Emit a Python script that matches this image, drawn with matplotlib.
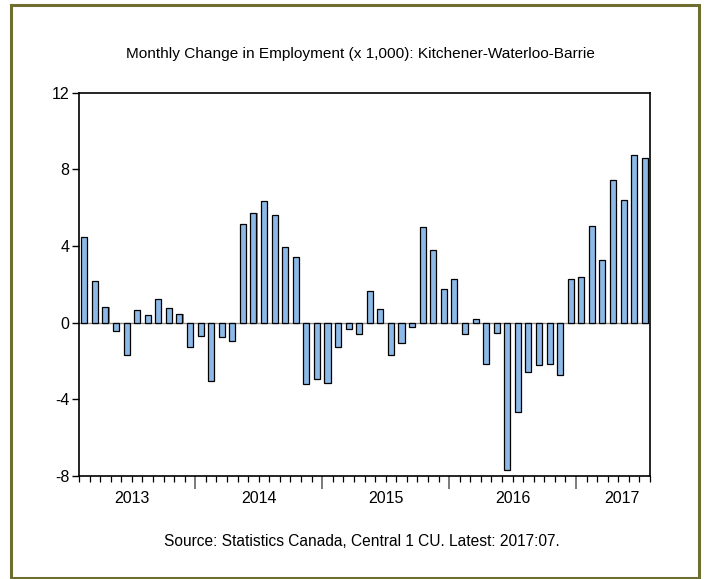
import numpy as np
import matplotlib
matplotlib.use("Agg")
import matplotlib.pyplot as plt
from matplotlib.patches import Rectangle

# monthly change in employment (x 1,000), 2013:02 .. 2017:07
months = [f"{y}:{m:02d}" for y in range(2013, 2018) for m in range(1, 13)][1:55]
change = [4.47, 2.16, 0.82, -0.45, -1.67, 0.64, 0.38, 1.22, 0.75, 0.47, -1.25,
          -0.70, -3.06, -0.77, -0.97, 5.13, 5.70, 6.33, 5.62, 3.93, 3.41, -3.22,
          -2.96, -3.15, -1.25, -0.35, -0.61, 1.63, 0.70, -1.67, -1.06, -0.21,
          4.97, 3.81, 1.77, 2.26, -0.59, 0.19, -2.17, -0.56, -7.67, -4.64,
          -2.56, -2.19, -2.16, -2.75, 2.26, 2.37, 5.06, 3.27, 7.43, 6.38,
          8.77, 8.57]
years = ["2013", "2014", "2015", "2016", "2017"]
yticks = [-8, -4, 0, 4, 8, 12]

plt.rcParams['font.family'] = ['Liberation Sans', 'DejaVu Sans']

fig = plt.figure(figsize=(7.04, 5.79), dpi=100)
ax = fig.add_axes([79 / 704, 1 - 476 / 579, 571 / 704, 383.3 / 579])

x = np.arange(len(change))
# grey shadow, then the bar itself
ax.bar(x + 0.1, change, width=0.57, color="#8a8a8a", zorder=2)
ax.bar(x, change, width=0.57, color="#8cb9e6", edgecolor="black",
       linewidth=0.9, zorder=3)
ax.axhline(0, color="#8c8c8c", lw=1.0, zorder=1)

ax.set_xlim(-0.5, len(change) - 0.5)
ax.set_ylim(-8, 12)
ax.set_yticks(yticks)
ax.set_yticklabels([str(v) for v in yticks], fontsize=11.5)
ax.tick_params(axis="y", direction="out", length=5, width=1, pad=2)

# year boundaries (January) as major ticks, months as minor ticks
jan = [i - 0.5 for i, m in enumerate(months) if m.endswith(":01")]
ax.set_xticks(jan)
ax.set_xticklabels([""] * len(jan))
ax.tick_params(axis="x", which="major", direction="out", length=9,
               width=1.3, color="#707070")
ax.set_xticks(np.arange(-0.5, len(change)), minor=True)
ax.tick_params(axis="x", which="minor", direction="out", length=4,
               width=0.9, color="black")

label_pos = [4.5, 16.5, 28.5, 40.5, 50.8]
for p, yr in zip(label_pos, years):
    ax.text(p, -0.06, yr, transform=ax.get_xaxis_transform(), ha="center",
            va="center", fontsize=11.5)

for s in ax.spines.values():
    s.set_linewidth(1.2)

fig.text(0.512, 1 - 54 / 579,
         "Monthly Change in Employment (x 1,000): Kitchener-Waterloo-Barrie",
         ha="center", va="center", fontsize=11.1)
fig.text(0.514, 1 - 541 / 579,
         "Source: Statistics Canada, Central 1 CU. Latest: 2017:07.",
         ha="center", va="center", fontsize=11.2)

# olive frame round the whole picture
fig.patches.append(Rectangle((11 / 704, 1 - 578 / 579), 688 / 704, 573 / 579,
                             transform=fig.transFigure, fill=False,
                             edgecolor="#6e6e30", linewidth=2.2))

fig.savefig("out.png", dpi=100)
